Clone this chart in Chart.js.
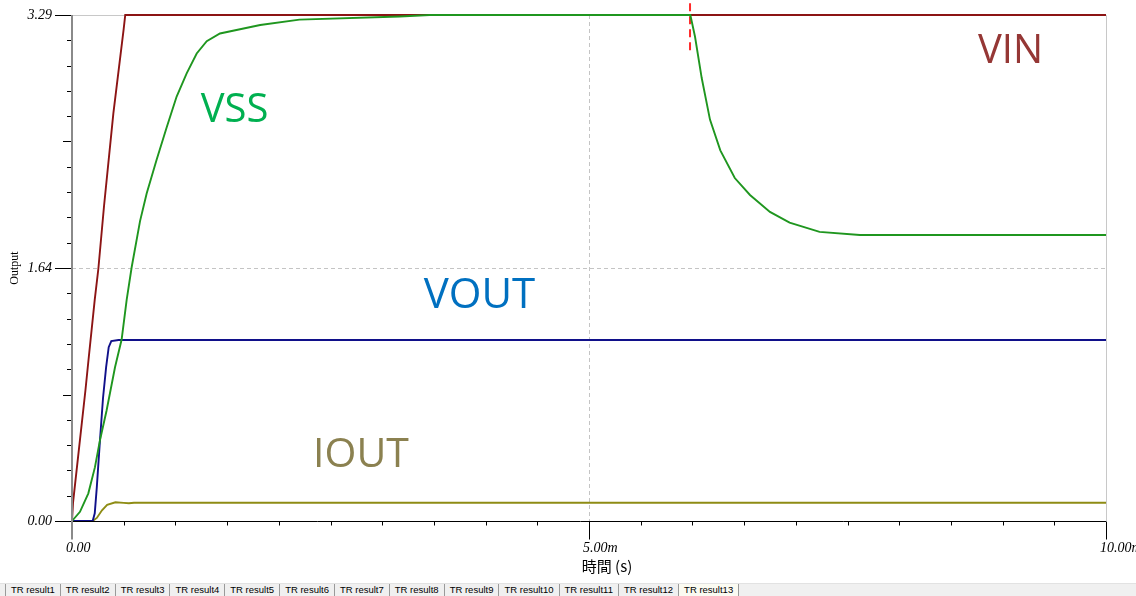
<!DOCTYPE html>
<html><head><meta charset="utf-8">
<script src="https://cdn.jsdelivr.net/npm/chart.js@4.4.0/dist/chart.umd.min.js"></script>
<style>
html,body{margin:0;padding:0;background:#fff;}
#wrap{position:relative;width:1136px;height:596px;overflow:hidden;background:#fff;}
#c{position:absolute;left:0;top:0;}
#tabs{position:absolute;left:0;top:583px;width:1136px;height:13px;background:#f0f0f0;border-top:1px solid #e2e2e2;display:flex;font:9.5px "Liberation Sans",Arial,sans-serif;color:#000;padding-left:5px;box-sizing:border-box;}
.tab{padding:0 5px;border-right:1px solid #9a9a9a;line-height:12px;height:12px;white-space:nowrap;}
.tab.first{border-left:1px solid #9a9a9a;}
.tab.sel{background:#fbfbf2;}
</style></head>
<body><div id="wrap"><canvas id="c" width="1136" height="583"></canvas><div id="tabs"></div></div>
<script>
// ---- data (time in ms, value in V / A) ----
const vinT  = [0, 0.01, 0.13, 0.16, 0.22, 0.255, 0.31, 0.40, 0.50, 0.515, 10];
const vinV  = [0, 0.12, 0.85, 1.05, 1.44, 1.64, 2.05, 2.65, 3.20, 3.29, 3.29];

const vssT  = [0, 0.077, 0.158, 0.222, 0.271, 0.335, 0.416, 0.48, 0.529, 0.577, 0.658, 0.722, 0.819, 0.916, 1.012, 1.109, 1.206, 1.303, 1.431, 1.82, 2.2, 3.17, 3.46, 5.98, 6.025, 6.09, 6.17, 6.27, 6.41, 6.557, 6.75, 6.94, 7.23, 7.62, 10];
const vssV  = [0, 0.06, 0.18, 0.35, 0.527, 0.72, 1.0, 1.18, 1.44, 1.65, 1.95, 2.13, 2.35, 2.56, 2.76, 2.91, 3.04, 3.12, 3.17, 3.225, 3.26, 3.28, 3.29, 3.29, 3.15, 2.88, 2.61, 2.41, 2.23, 2.12, 2.01, 1.94, 1.88, 1.86, 1.86];

const voutT = [0, 0.20, 0.22, 0.24, 0.27, 0.30, 0.33, 0.355, 0.38, 0.45, 10];
const voutV = [0, 0, 0.05, 0.22, 0.52, 0.80, 1.00, 1.13, 1.17, 1.177, 1.177];

const ioutT = [0, 0.20, 0.24, 0.29, 0.34, 0.42, 0.50, 0.55, 0.60, 10];
const ioutV = [0, 0, 0.02, 0.07, 0.105, 0.122, 0.118, 0.115, 0.119, 0.119];

const cursorT = [5.977, 5.977];
const cursorV = [3.367, 3.043];

// ---- axis ticks / labels ----
const xMin = 0, xMax = 10;
const yMin = 0, yMax = 3.29;
const xMajorTicks  = [0, 5, 10];
const xMajorLabels = ['0.00', '5.00m', '10.00m'];
const xMinorStep = 0.5;
const yDivisions = 20;
const yMajorIdx    = [0, 10, 20];
const yMajorLabels = ['0.00', '1.64', '3.29'];
const yMidIdx      = [5, 15];
const xTitle = '時間 (s)';
const yTitle = 'Output';

const annotations = [
  {text:'VIN',  x:9.077, y:2.978, color:'#953735', size:40},
  {text:'VSS',  x:1.572, y:2.594, color:'#00b050', size:40},
  {text:'VOUT', x:3.941, y:1.385, color:'#0070c0', size:42},
  {text:'IOUT', x:2.795, y:0.351, color:'#8b8150', size:41}
];
const tabNames = ['TR result1','TR result2','TR result3','TR result4','TR result5','TR result6','TR result7','TR result8','TR result9','TR result10','TR result11','TR result12','TR result13'];

// tabs
const tabsEl = document.getElementById('tabs');
tabNames.forEach((n,i)=>{
  const s = document.createElement('div');
  s.className = 'tab' + (i===0?' first':'') + (i===tabNames.length-1?' sel':'');
  s.textContent = n;
  tabsEl.appendChild(s);
});

const pts = (t,v)=>t.map((x,i)=>({x:x, y:v[i]}));

const xTickValues = [];
for (let i = 0; i <= Math.round((xMax-xMin)/xMinorStep); i++) xTickValues.push(xMin + i*xMinorStep);
const yTickValues = [];
for (let i = 0; i <= yDivisions; i++) yTickValues.push(yMin + i*(yMax-yMin)/yDivisions);

const axesPlugin = {
  id:'axesPlugin',
  beforeDatasetsDraw(chart){
    const {ctx, chartArea:a, scales:{x,y}} = chart;
    ctx.save();
    ctx.strokeStyle = '#c8c8c8'; ctx.lineWidth = 1;
    ctx.beginPath();
    const yt = Math.round(y.getPixelForValue(yMax)) + 0.5;
    const xr = Math.round(x.getPixelForValue(xMax)) + 0.5;
    ctx.moveTo(a.left, yt); ctx.lineTo(xr, yt);
    ctx.moveTo(xr, yt); ctx.lineTo(xr, a.bottom);
    ctx.stroke();
    ctx.strokeStyle = '#c4c4c4'; ctx.setLineDash([4,3]);
    ctx.beginPath();
    const ym = Math.round(y.getPixelForValue(yTickValues[yMajorIdx[1]])) + 0.5;
    ctx.moveTo(a.left, ym); ctx.lineTo(a.right, ym);
    const xm = Math.round(x.getPixelForValue(xMajorTicks[1])) + 0.5;
    ctx.moveTo(xm, a.top); ctx.lineTo(xm, a.bottom);
    ctx.stroke();
    ctx.restore();
  },
  afterDatasetsDraw(chart){
    const {ctx, chartArea:a, scales:{x,y}} = chart;
    ctx.save();
    const y0 = Math.round(y.getPixelForValue(yMin)) + 0.5;
    const x0 = Math.round(x.getPixelForValue(xMin));
    ctx.strokeStyle = '#000'; ctx.lineWidth = 1;
    ctx.beginPath();
    ctx.moveTo(x0 - 17, y0); ctx.lineTo(a.right, y0);
    xTickValues.forEach(v=>{
      const px = Math.round(x.getPixelForValue(v)) + 0.5;
      const major = xMajorTicks.indexOf(v) >= 0;
      if (v === xMin) return;
      ctx.moveTo(px, y0); ctx.lineTo(px, y0 + (major ? 18 : 4));
    });
    yTickValues.forEach((v,i)=>{
      const py = Math.round(y.getPixelForValue(v)) + 0.5;
      let len = 5;
      if (yMajorIdx.indexOf(i) >= 0) len = 17; else if (yMidIdx.indexOf(i) >= 0) len = 9;
      ctx.moveTo(x0 - len, py); ctx.lineTo(x0, py);
    });
    ctx.stroke();
    ctx.strokeStyle = '#8a8a8a'; ctx.lineWidth = 2;
    ctx.beginPath();
    ctx.moveTo(x0, Math.round(y.getPixelForValue(yMax))); ctx.lineTo(x0, y0 + 18);
    ctx.stroke();
    ctx.fillStyle = '#000';
    ctx.font = '15px "Noto Sans CJK JP", sans-serif';
    ctx.textAlign = 'center'; ctx.textBaseline = 'middle';
    ctx.fillText(xTitle, x.getPixelForValue(xMajorTicks[1]) + 18, 566);
    ctx.restore();
  },
  afterDraw(chart){
    const {ctx, scales:{x,y}} = chart;
    ctx.save();
    ctx.textAlign = 'center'; ctx.textBaseline = 'alphabetic';
    annotations.forEach(an=>{
      ctx.fillStyle = an.color;
      ctx.font = an.size + 'px "Open Sans", sans-serif';
      ctx.fillText(an.text, x.getPixelForValue(an.x), y.getPixelForValue(an.y));
    });
    ctx.restore();
  }
};

const lineDs = (label, t, v, color) => ({label, data: pts(t,v), borderColor: color, backgroundColor: color, borderWidth: 1.9, pointRadius: 0, tension: 0, fill: false, clip: false});

new Chart(document.getElementById('c').getContext('2d'), {
  type: 'line',
  data: { datasets: [
    lineDs('VSS', vssT, vssV, '#1f961f'),
    lineDs('VIN', vinT, vinV, '#8c1414'),
    lineDs('VOUT', voutT, voutV, '#10108a'),
    lineDs('IOUT', ioutT, ioutV, '#8e8c14'),
    Object.assign(lineDs('cursor', cursorT, cursorV, '#ff2a2a'), {borderWidth: 2, borderDash: [8,5]})
  ]},
  options: {
    responsive: false, animation: false, devicePixelRatio: 1,
    layout: { padding: { top: 15, right: 30, left: 0, bottom: 0 } },
    plugins: { legend: { display: false }, tooltip: { enabled: false } },
    scales: {
      x: {
        type: 'linear', min: xMin, max: xMax,
        grid: { display: false, drawTicks: false }, border: { display: false },
        afterBuildTicks: s => { s.ticks = xTickValues.map(v => ({value: v})); },
        ticks: {
          autoSkip: false, maxRotation: 0, minRotation: 0, align: 'start', labelOffset: -6, padding: 19,
          color: '#000', font: { family: '"Liberation Serif", serif', size: 14, style: 'italic' },
          callback: v => { const i = xMajorTicks.indexOf(v); return i >= 0 ? xMajorLabels[i] : ''; }
        },
        afterFit: s => { s.height = 62; s.paddingLeft = 0; s.paddingRight = 0; }
      },
      y: {
        type: 'linear', min: yMin, max: yMax,
        grid: { display: false, drawTicks: false }, border: { display: false },
        afterBuildTicks: s => { s.ticks = yTickValues.map(v => ({value: v})); },
        ticks: {
          autoSkip: false, padding: 20,
          color: '#000', font: { family: '"Liberation Serif", serif', size: 14, style: 'italic' },
          callback: (v, i) => { const k = yMajorIdx.indexOf(i); return k >= 0 ? yMajorLabels[k] : ''; }
        },
        title: { display: true, text: yTitle, color: '#000', font: { family: '"Liberation Serif", serif', size: 12 }, padding: { top: 8, bottom: 0 } },
        afterFit: s => { s.width = 72; s.paddingTop = 0; s.paddingBottom = 0; }
      }
    }
  },
  plugins: [axesPlugin]
});
</script>
</body></html>
